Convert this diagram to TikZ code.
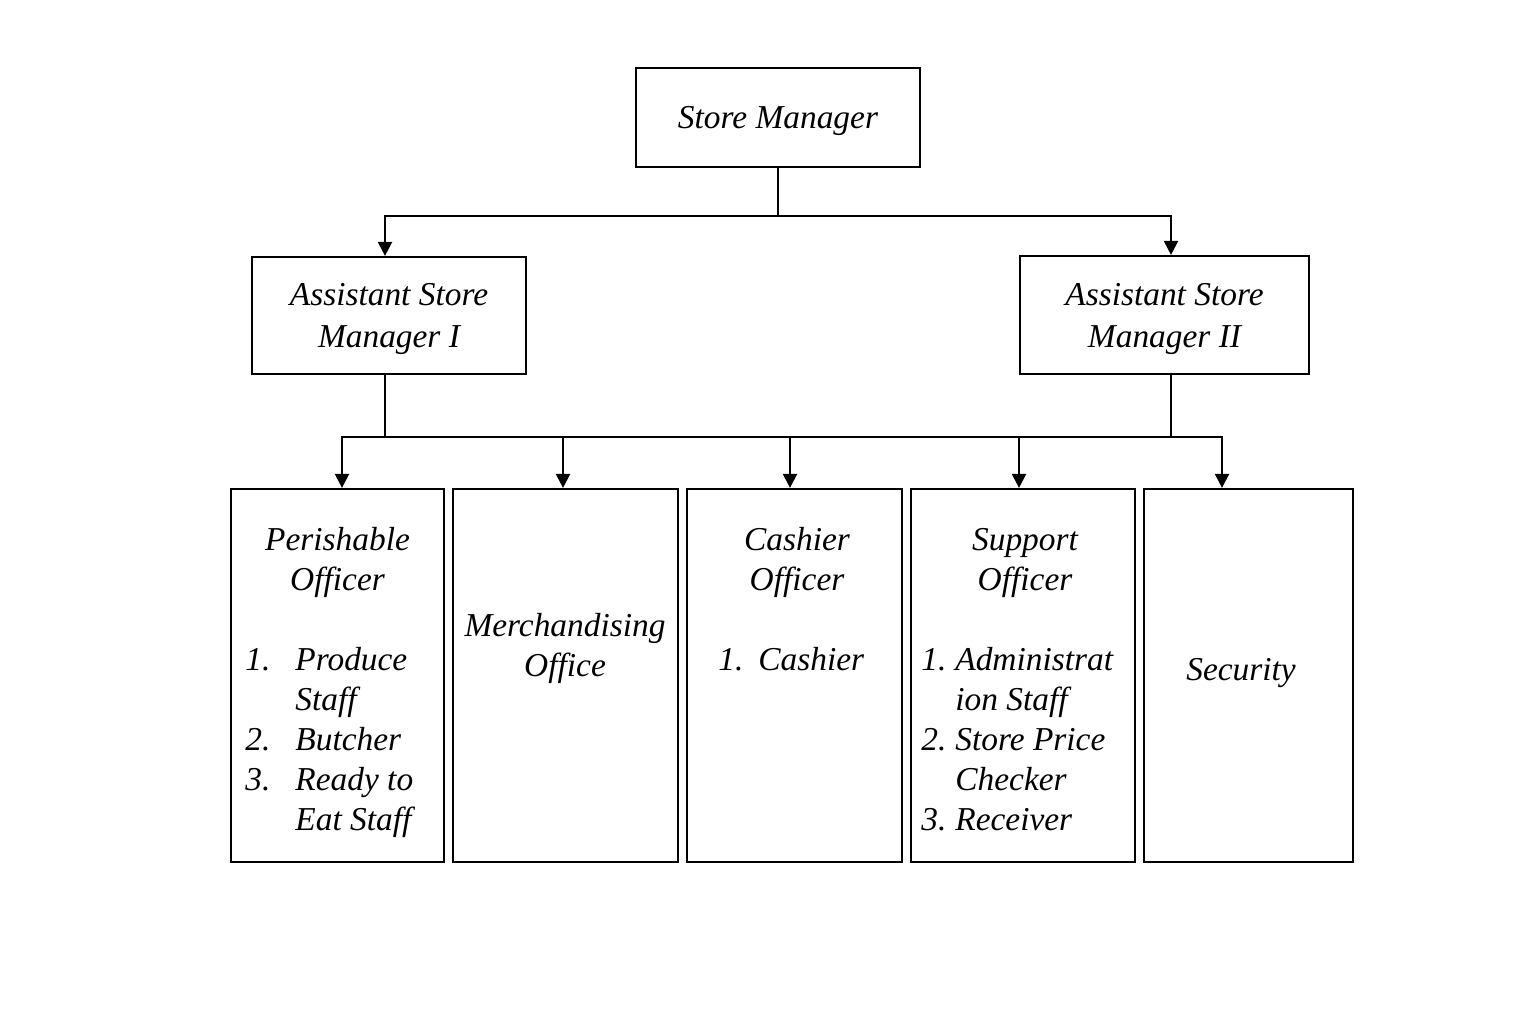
\documentclass[tikz,border=0pt]{standalone}
\usepackage{fontspec}
\setmainfont{Liberation Serif}
\usetikzlibrary{arrows.meta}

\tikzset{
  wire/.style={line width=1.1pt,line cap=rect},
  arr/.style={line width=1.1pt,line cap=rect,-{Triangle[length=7pt,width=7pt]}},
  unit/.style={draw,line width=1.1pt,inner sep=0pt,align=center,text depth=0pt},
  txt/.style={inner sep=0pt,anchor=base},
}

\begin{document}
\begin{tikzpicture}[x=0.5pt,y=-0.5pt,font=\fontsize{16.7}{20}\selectfont\itshape]
  \path[use as bounding box] (0,0) rectangle (1536,1024);
  \node[unit,minimum width=142pt,minimum height=49.5pt] (sm) at (778,117.5) {Store Manager};
  \node[unit,minimum width=137pt,minimum height=58.5pt,font=\fontsize{16.7}{21}\selectfont\itshape] (asm1) at (389,315.5) {Assistant Store\\Manager I};
  \node[unit,minimum width=144.5pt,minimum height=59pt,font=\fontsize{16.7}{21}\selectfont\itshape] (asm2) at (1164.5,315) {Assistant Store\\Manager II};
  \foreach \b/\x/\w in {per/337.5/106.5, mer/565.5/112.5, cas/794.5/107.5, sup/1023/112, sec/1248.5/104.5} {
    \node[unit,minimum width=\w pt,minimum height=186.5pt] (\b) at (\x,675.5) {};
  }
  \node[txt] (perT) at (337.5,550) {\begin{tabular}[t]{@{}c@{}}Perishable\\Officer\end{tabular}};
  \node[txt,anchor=base west] (perL) at (245,670) {\begin{tabular}[t]{@{}l@{}l@{}}\makebox[25pt][l]{1.}&Produce\\&Staff\\2.&Butcher\\3.&Ready to\\&Eat Staff\end{tabular}};
  \node[txt] (merT) at (565,636) {\begin{tabular}[t]{@{}c@{}}Merchandising\\Office\end{tabular}};
  \node[txt] (casT) at (797,550) {\begin{tabular}[t]{@{}c@{}}Cashier\\Officer\end{tabular}};
  \node[txt,anchor=base west] (casL) at (718,670) {\makebox[20pt][l]{1.}Cashier};
  \node[txt] (supT) at (1025,550) {\begin{tabular}[t]{@{}c@{}}Support\\Officer\end{tabular}};
  \node[txt,anchor=base west] (supL) at (921,670) {\begin{tabular}[t]{@{}l@{}l@{}}\makebox[17pt][l]{1.}&Administrat\\&ion Staff\\2.&Store Price\\&Checker\\3.&Receiver\end{tabular}};
  \node[txt] (secT) at (1241,680) {Security};
  % connectors
  \coordinate (topbus) at (778,216);
  \draw[wire] (sm.south) -- (topbus);
  \draw[arr] (topbus) -| ([xshift=-2pt]asm1.north);
  \draw[arr] (topbus) -| ([xshift=3.25pt]asm2.north);
  \coordinate (bus1) at (385,437);
  \coordinate (bus2) at (1171,437);
  \draw[wire] (bus1 |- asm1.south) -- (bus1);
  \draw[wire] (bus2 |- asm2.south) -- (bus2);
  \foreach \b/\x in {per/342, mer/563, cas/790, sup/1019, sec/1222} {
    \coordinate (a\b) at (\x,437);
    \draw[arr] (a\b) -- (a\b |- \b.north);
  }
  \draw[wire] (aper) -- (asec);
\end{tikzpicture}
\end{document}
